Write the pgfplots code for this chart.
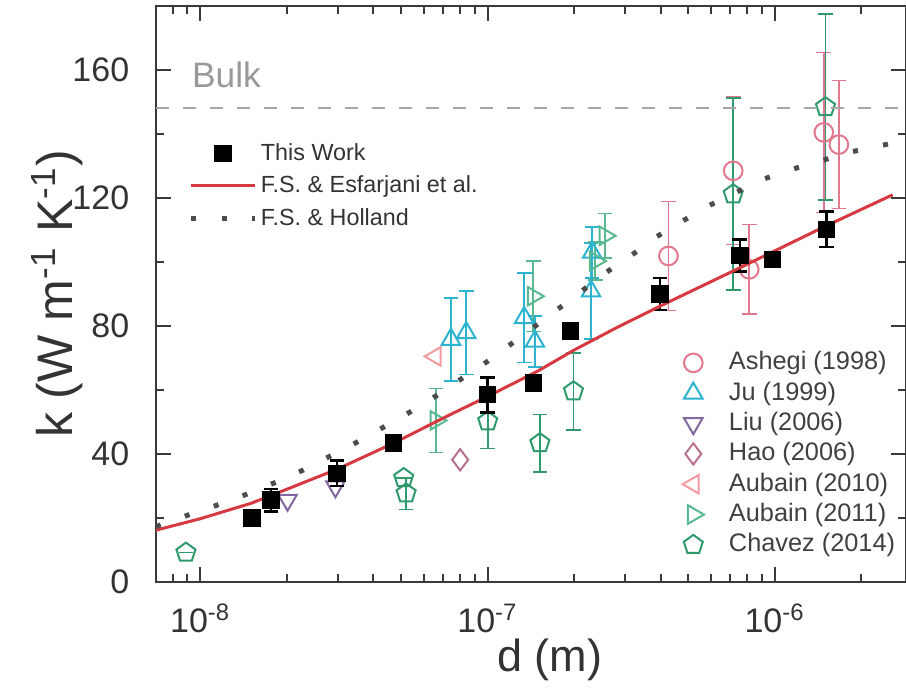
\documentclass[border=0pt]{standalone}
\usepackage{pgfplots}
\pgfplotsset{compat=1.18}
\usepackage{fontspec}
\setmainfont{Liberation Sans}
\usetikzlibrary{plotmarks}
\definecolor{redline}{HTML}{D63A40}
\definecolor{ashegi}{HTML}{E2788E}
\definecolor{ju}{HTML}{2BB3CF}
\definecolor{liu}{HTML}{8268A0}
\definecolor{hao}{HTML}{B7728F}
\definecolor{aubA}{HTML}{F29A9E}
\definecolor{aubB}{HTML}{58B890}
\definecolor{chavez}{HTML}{2F9A6B}
\definecolor{frame}{HTML}{3A3A3A}
\begin{document}
\begin{tikzpicture}
% literature data
\begin{axis}[scale only axis, width=225pt, height=172.8pt,
  xmode=log, xmin=7e-9, xmax=2.86e-6, ymin=0, ymax=180,
  hide axis,
  legend style={at={(axis description cs:0.99,0.037)}, anchor=south east,
    draw=none, fill=none, inner sep=0pt,
    font=\fontsize{7.6}{8}\selectfont, text=black!75,
    nodes={text height=5.8pt, text depth=1.7pt, inner sep=0.8pt}},
  legend cell align=left,
  legend image code/.code={\path[draw=none, fill=none] (0pt,-1pt) rectangle (13.5pt,1pt); \draw[#1] plot coordinates {(3.6pt,0pt)};},
]
\addplot[only marks, mark=o, mark size=2.8pt, color=ashegi, mark options={solid, line width=0.6pt},
  error bars/y dir=both, error bars/y explicit,
  error bars/error bar style={line width=0.5pt, color=ashegi},
  error bars/error mark options={rotate=90, mark size=2.2pt, line width=0.5pt, color=ashegi}]
  table[x=x, y=y, y error=e] {
x y e
4.26e-7 101.9 17
7.16e-7 128.5 23
8.14e-7 97.7 14
1.48e-6 140.5 25
1.67e-6 136.7 20
};
\addlegendentry{Ashegi (1998)}
\addplot[only marks, mark=triangle, mark size=3.2pt, color=ju, mark options={solid, line width=0.6pt},
  error bars/y dir=both, error bars/y explicit,
  error bars/error bar style={line width=0.5pt, color=ju},
  error bars/error mark options={rotate=90, mark size=2.2pt, line width=0.5pt, color=ju}]
  table[x=x, y=y, y error=e] {
x y e
7.45e-8 75.8 13
8.42e-8 77.9 13
1.34e-7 82.6 14
1.46e-7 75.2 8
2.29e-7 90.9 15
2.31e-7 103 8
};
\addlegendentry{Ju (1999)}
\addplot[only marks, mark=triangle, mark size=3.2pt, color=liu, mark options={solid, line width=0.6pt, rotate=180}]
  table[x=x, y=y] {
x y
2.01e-8 25.6
2.95e-8 29.8
};
\addlegendentry{Liu (2006)}
\addplot[only marks, mark=diamond, mark size=3.2pt, color=hao, mark options={solid, line width=0.6pt}]
  table[x=x, y=y] {
x y
8.02e-8 38.2
};
\addlegendentry{Hao (2006)}
\addplot[only marks, mark=triangle, mark size=3.2pt, color=aubA, mark options={solid, line width=0.6pt, rotate=90}]
  table[x=x, y=y] {
x y
6.57e-8 70.5
};
\addlegendentry{Aubain (2010)}
\addplot[only marks, mark=triangle, mark size=3.2pt, color=aubB, mark options={solid, line width=0.6pt, rotate=270},
  error bars/y dir=both, error bars/y explicit,
  error bars/error bar style={line width=0.5pt, color=aubB},
  error bars/error mark options={rotate=90, mark size=2.2pt, line width=0.5pt, color=aubB}]
  table[x=x, y=y, y error=e] {
x y e
6.6e-8 50.5 10
1.44e-7 89.3 11
2.37e-7 100.3 6
2.56e-7 108.2 7
};
\addlegendentry{Aubain (2011)}
\addplot[only marks, mark=pentagon, mark size=3.0pt, color=chavez, mark options={solid, line width=0.6pt},
  error bars/y dir=both, error bars/y explicit,
  error bars/error bar style={line width=0.5pt, color=chavez},
  error bars/error mark options={rotate=90, mark size=2.2pt, line width=0.5pt, color=chavez}]
  table[x=x, y=y, y error=e] {
x y e
8.9e-9 9.2 0
5.1e-8 32.5 0
5.2e-8 27.7 5
1.0e-7 50.2 8.5
1.52e-7 43.4 9
1.99e-7 59.6 12
7.16e-7 121.2 30
1.5e-6 148.4 29
};
\addlegendentry{Chavez (2014)}
\end{axis}
% main axis
\begin{axis}[scale only axis, width=225pt, height=172.8pt,
  xmode=log, xmin=7e-9, xmax=2.86e-6, ymin=0, ymax=180,
  xtick={1e-8,1e-7,1e-6},
  xticklabels={10\textsuperscript{-8},10\textsuperscript{-7},10\textsuperscript{-6}},
  minor xtick={7e-9,8e-9,9e-9,2e-8,3e-8,4e-8,5e-8,6e-8,7e-8,8e-8,9e-8,2e-7,3e-7,4e-7,5e-7,6e-7,7e-7,8e-7,9e-7,2e-6},
  ytick={0,40,80,120,160}, yticklabels={0,40,80,120,160},
  minor ytick={20,60,100,140},
  tick align=inside,
  major tick length=4.5pt, minor tick length=2.4pt,
  every tick/.style={color=frame, line width=0.6pt},
  axis line style={line width=0.8pt, color=frame},
  ticklabel style={font=\fontsize{10.2}{12}\selectfont, text=black!80},
  xticklabel style={yshift=-3pt},
  yticklabel style={xshift=-4.5pt},
  xlabel={d (m)},
  ylabel={k (W m\textsuperscript{-1} K\textsuperscript{-1})},
  xlabel style={font=\fontsize{13.5}{15}\selectfont, text=black!80, at={(axis description cs:0.525,-0.135)}, anchor=center},
  ylabel style={font=\fontsize{15}{17}\selectfont, text=black!80, at={(axis description cs:-0.132,0.5)}, anchor=center},
  legend style={at={(axis description cs:0.0427,0.774)}, anchor=north west,
    draw=none, fill=none, inner sep=0pt,
    font=\fontsize{7}{8}\selectfont, text=black!80,
    nodes={text height=6pt, text depth=1.8pt, inner sep=1pt}},
  legend cell align=left,
  legend image code/.code={\draw[mark repeat=2,mark phase=2,#1] plot coordinates {(0pt,0pt)(9.6pt,0pt)(19.2pt,0pt)};},
]
\coordinate (bl) at (rel axis cs:0,0);
\coordinate (tr) at (rel axis cs:1,1);
\addplot[forget plot, color=black!35, line width=0.6pt, dash pattern=on 3.9pt off 4.2pt]
  coordinates {(7e-9,148) (2.86e-6,148)};
\node[anchor=west, inner sep=0pt, text=black!40, font=\fontsize{10.6}{12}\selectfont] at (axis cs:9.3e-9,158.6) {Bulk};
\addplot[only marks, mark=square*, mark size=2.4pt, color=black,
  error bars/y dir=both, error bars/y explicit,
  error bars/error bar style={line width=0.8pt, color=black},
  error bars/error mark options={rotate=90, mark size=2.2pt, line width=0.8pt, color=black}]
  table[x=x, y=y, y error=e] {
x y e
1.51e-8 20 1.5
1.76e-8 25.6 3.5
2.99e-8 34 4
4.70e-8 43.4 1.5
1.0e-7 58.5 5.5
1.44e-7 62.2 2
1.94e-7 78.4 1.5
3.98e-7 90 5
7.55e-7 102 5
9.8e-7 100.8 2
1.51e-6 110.2 5.5
};
\addlegendentry{This Work}
\addplot[color=redline, line width=0.9pt, no marks] coordinates {
(7e-9,16.2) (1e-8,19.8) (1.5e-8,24.6) (2e-8,29) (3e-8,35.3) (4.7e-8,43.4)
(7.4e-8,52.3) (1e-7,58) (1.5e-7,66) (2e-7,72.5) (2.8e-7,79.4) (4e-7,86.3)
(7.16e-7,97.2) (1e-6,103.5) (1.5e-6,111.2) (2.57e-6,121)};
\addlegendentry{F.S. \& Esfarjani et al.}
\addplot[color=black!70, line width=1.5pt, no marks, dash pattern=on 1.5pt off 7.7pt] coordinates {
(7e-9,17.3) (9.04e-9,20.9) (1.14e-8,24.0) (1.445e-8,27.4) (1.81e-8,31.0) (2.28e-8,35.0)
(3.49e-8,43.6) (4.34e-8,48.4) (5.41e-8,53.3) (6.57e-8,58.0) (1e-7,69) (1.22e-7,74.7)
(1.8e-7,86) (2.6e-7,96.9) (3.2e-7,102.4) (3.89e-7,108) (4.79e-7,112.9) (5.89e-7,117.6)
(9.12e-7,125.9) (1.15e-6,129) (1.86e-6,134.5) (2.4e-6,136.6) (2.86e-6,138)};
\addlegendentry{F.S. \& Holland}
\end{axis}
\pgfresetboundingbox
\path[use as bounding box] ([xshift=-46.8pt,yshift=-32.1pt]bl) rectangle ([yshift=1.8pt]tr);
\end{tikzpicture}
\end{document}
